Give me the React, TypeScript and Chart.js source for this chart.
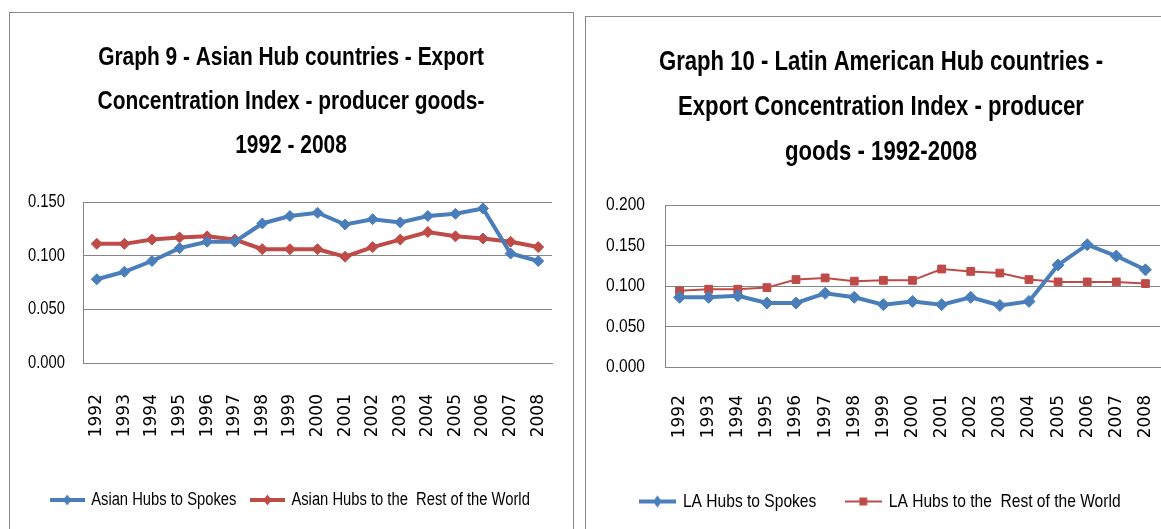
import React, { useEffect, useRef } from 'react';
import { Chart, registerables } from 'chart.js';

Chart.register(...registerables);

// ---------- data ----------
const years = ['1992', '1993', '1994', '1995', '1996', '1997', '1998', '1999', '2000', '2001', '2002', '2003', '2004', '2005', '2006', '2007', '2008'];

const asianHubsToSpokes = [0.078, 0.085, 0.095, 0.107, 0.113, 0.113, 0.130, 0.137, 0.140, 0.129, 0.134, 0.131, 0.137, 0.139, 0.144, 0.102, 0.095];
const asianHubsToRoW = [0.111, 0.111, 0.115, 0.117, 0.118, 0.115, 0.106, 0.106, 0.106, 0.099, 0.108, 0.115, 0.122, 0.118, 0.116, 0.113, 0.108];

const laHubsToSpokes = [0.086, 0.086, 0.088, 0.079, 0.079, 0.091, 0.086, 0.077, 0.081, 0.077, 0.086, 0.076, 0.081, 0.126, 0.151, 0.137, 0.120];
const laHubsToRoW = [0.094, 0.096, 0.096, 0.098, 0.108, 0.110, 0.106, 0.107, 0.107, 0.121, 0.118, 0.116, 0.108, 0.105, 0.105, 0.105, 0.103];

const asianTitle = ['Graph 9 - Asian Hub countries - Export', 'Concentration Index - producer goods-', '1992 - 2008'];
const laTitle = ['Graph 10 - Latin American Hub countries -', 'Export Concentration Index - producer', 'goods - 1992-2008'];

const asianLabels = ['Asian Hubs to Spokes', 'Asian Hubs to the  Rest of the World'];
const laLabels = ['LA Hubs to Spokes', 'LA Hubs to the  Rest of the World'];

const asianYTicks = { max: 0.15, step: 0.05 };
const laYTicks = { max: 0.2, step: 0.05 };

// ---------- styles ----------
const BLUE = '#4A7EBB';
const RED = '#BE4B48';
const GRID = '#868686';
const NARROW = "'Liberation Sans', Arial, sans-serif";
const WIDE = "'DejaVu Sans', Verdana, sans-serif";
const CONDENSE = 0.82; // horizontal squeeze applied to the Liberation Sans texts

type Series = {
  label: string;
  data: number[];
  color: string;
  width: number;
  pointStyle: 'rectRot' | 'rect';
  radius: number;
};

type PanelProps = {
  title: string[];
  titleSize: number;
  titleLineHeight: number;
  titlePadTop: number;
  titlePadBottom: number;
  series: Series[];
  yMax: number;
  yStep: number;
  width: number;
  height: number;
  yAxisWidth: number;
  yTickPad: number;
  xAxisHeight: number;
  xTickPad: number;
  xTickSize: number;
  padSide: number;
  tickSize: number;
  legendSize: number;
  legendPad: number;
  legendBoxW: number;
  iconW: number;
};

function condenseText(ctx: any, sx: number) {
  const proto: any = CanvasRenderingContext2D.prototype;
  ctx.fillText = function (text: string, x: number, y: number, maxWidth?: number) {
    if (!String(this.font).includes('Liberation')) {
      return maxWidth === undefined ? proto.fillText.call(this, text, x, y) : proto.fillText.call(this, text, x, y, maxWidth);
    }
    this.save();
    this.translate(x, y);
    this.scale(sx, 1);
    if (maxWidth === undefined) proto.fillText.call(this, text, 0, 0);
    else proto.fillText.call(this, text, 0, 0, maxWidth / sx);
    this.restore();
  };
  ctx.measureText = function (text: string) {
    const m = proto.measureText.call(this, text);
    if (!String(this.font).includes('Liberation')) return m;
    return {
      width: m.width * sx,
      actualBoundingBoxAscent: m.actualBoundingBoxAscent,
      actualBoundingBoxDescent: m.actualBoundingBoxDescent,
      actualBoundingBoxLeft: m.actualBoundingBoxLeft * sx,
      actualBoundingBoxRight: m.actualBoundingBoxRight * sx,
      fontBoundingBoxAscent: m.fontBoundingBoxAscent,
      fontBoundingBoxDescent: m.fontBoundingBoxDescent,
    };
  };
}

// lets the y tick labels use the whole left margin instead of being clipped to the axis box
const unclipYLabels = {
  id: 'unclipYLabels',
  afterLayout(chart: any) {
    if (chart.scales.y) chart.scales.y.left = 0;
  },
};

function makeIcon(s: Series, w: number): HTMLCanvasElement {
  const h = 16;
  const c = document.createElement('canvas');
  c.width = w;
  c.height = h;
  const ctx = c.getContext('2d') as CanvasRenderingContext2D;
  ctx.strokeStyle = s.color;
  ctx.lineWidth = s.width;
  ctx.beginPath();
  ctx.moveTo(0, h / 2);
  ctx.lineTo(w, h / 2);
  ctx.stroke();
  ctx.fillStyle = s.color;
  ctx.beginPath();
  const cx = w / 2;
  const cy = h / 2;
  if (s.pointStyle === 'rectRot') {
    const r = s.radius;
    ctx.moveTo(cx, cy - r);
    ctx.lineTo(cx + r * 0.75, cy);
    ctx.lineTo(cx, cy + r);
    ctx.lineTo(cx - r * 0.75, cy);
    ctx.closePath();
  } else {
    const r = s.radius * 0.72;
    ctx.rect(cx - r, cy - r, 2 * r, 2 * r);
  }
  ctx.fill();
  return c;
}

function Panel(p: PanelProps) {
  const ref = useRef<HTMLCanvasElement | null>(null);
  useEffect(() => {
    if (!ref.current) return;
    const ctx2d = ref.current.getContext('2d');
    condenseText(ctx2d, CONDENSE);
    const icons = p.series.map((s) => makeIcon(s, p.iconW));
    const chart = new Chart(ref.current, {
      type: 'line',
      data: {
        labels: years,
        datasets: p.series.map((s) => ({
          label: s.label,
          data: s.data,
          borderColor: s.color,
          backgroundColor: s.color,
          borderWidth: s.width,
          pointStyle: s.pointStyle,
          pointRadius: s.radius,
          pointBackgroundColor: s.color,
          pointBorderColor: s.color,
          pointBorderWidth: 1,
          tension: 0,
          fill: false,
        })),
      },
      plugins: [unclipYLabels],
      options: {
        responsive: false,
        animation: false,
        layout: { padding: { left: p.padSide, right: p.padSide, top: 0, bottom: 0 } },
        plugins: {
          tooltip: { enabled: false },
          title: {
            display: true,
            text: p.title,
            color: '#000',
            font: { family: NARROW, size: p.titleSize, weight: 'bold', lineHeight: p.titleLineHeight / p.titleSize },
            padding: { top: p.titlePadTop, bottom: p.titlePadBottom },
          },
          legend: {
            display: true,
            position: 'bottom',
            labels: {
              color: '#000',
              font: { family: NARROW, size: p.legendSize },
              padding: p.legendPad,
              usePointStyle: true,
              pointStyleWidth: p.legendBoxW,
              generateLabels: (ch: any) =>
                ch.data.datasets.map((ds: any, i: number) => ({
                  text: ds.label,
                  pointStyle: icons[i],
                  fillStyle: ds.borderColor,
                  strokeStyle: ds.borderColor,
                  lineWidth: 0,
                  hidden: false,
                  datasetIndex: i,
                  fontColor: '#000',
                })),
            },
          },
        },
        scales: {
          x: {
            type: 'category',
            offset: true,
            grid: { display: false, drawTicks: false },
            border: { display: true, color: GRID, width: 1 },
            ticks: {
              autoSkip: false,
              minRotation: 90,
              maxRotation: 90,
              padding: p.xTickPad,
              color: '#000',
              font: { family: WIDE, size: p.xTickSize },
            },
            afterFit: (scale: any) => {
              scale.height = p.xAxisHeight;
              scale.paddingLeft = 0;
              scale.paddingRight = 0;
            },
          },
          y: {
            min: 0,
            max: p.yMax,
            grid: { color: GRID, lineWidth: 1, drawTicks: false },
            border: { display: true, color: GRID, width: 1 },
            ticks: {
              stepSize: p.yStep,
              padding: p.yTickPad,
              color: '#000',
              font: { family: NARROW, size: p.tickSize },
              callback: (v: any) => Number(v).toFixed(3),
            },
            afterFit: (scale: any) => {
              scale.width = p.yAxisWidth;
            },
          },
        },
      } as any,
    });
    return () => chart.destroy();
  }, []);
  return <canvas ref={ref} width={p.width} height={p.height} style={{ display: 'block', width: p.width, height: p.height }} />;
}

export default function App() {
  const asianSeries: Series[] = [
    { label: asianLabels[0], data: asianHubsToSpokes, color: BLUE, width: 4, pointStyle: 'rectRot', radius: 5.5 },
    { label: asianLabels[1], data: asianHubsToRoW, color: RED, width: 4, pointStyle: 'rectRot', radius: 5.5 },
  ];
  const laSeries: Series[] = [
    { label: laLabels[0], data: laHubsToSpokes, color: BLUE, width: 4, pointStyle: 'rectRot', radius: 6 },
    { label: laLabels[1], data: laHubsToRoW, color: RED, width: 2, pointStyle: 'rect', radius: 5.5 },
  ];
  return (
    <div style={{ position: 'fixed', left: 0, top: 0, width: 1161, height: 529, overflow: 'hidden', background: '#fff' }}>
      <div style={{ position: 'absolute', left: 9, top: 12, width: 565, height: 600, boxSizing: 'border-box', border: '1px solid #8a8a8a' }}>
        <Panel
          title={asianTitle}
          titleSize={25.5}
          titleLineHeight={44}
          titlePadTop={23}
          titlePadBottom={34}
          series={asianSeries}
          yMax={asianYTicks.max}
          yStep={asianYTicks.step}
          width={562}
          height={506}
          yAxisWidth={53}
          yTickPad={18}
          xAxisHeight={112}
          xTickPad={31}
          xTickSize={17}
          padSide={20}
          tickSize={18}
          legendSize={18}
          legendPad={16}
          legendBoxW={30}
          iconW={35}
        />
      </div>
      <div style={{ position: 'absolute', left: 585, top: 16, width: 620, height: 600, boxSizing: 'border-box', border: '1px solid #8a8a8a' }}>
        <Panel
          title={laTitle}
          titleSize={27}
          titleLineHeight={45}
          titlePadTop={23.5}
          titlePadBottom={29.5}
          series={laSeries}
          yMax={laYTicks.max}
          yStep={laYTicks.step}
          width={590}
          height={504}
          yAxisWidth={63}
          yTickPad={20}
          xAxisHeight={94}
          xTickPad={28}
          xTickSize={17}
          padSide={16}
          tickSize={19}
          legendSize={19}
          legendPad={31}
          legendBoxW={32}
          iconW={37}
        />
      </div>
    </div>
  );
}
